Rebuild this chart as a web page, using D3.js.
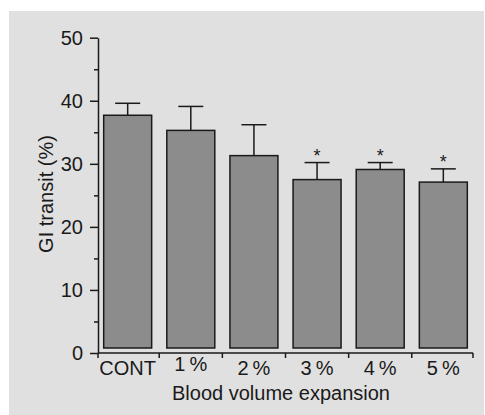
<!DOCTYPE html>
<html>
<head>
<meta charset="utf-8">
<script src="https://cdn.jsdelivr.net/npm/d3@7"></script>
<style>
  html, body { margin: 0; padding: 0; background: #fff; }
  svg { display: block; font-family: Arial, "Liberation Sans", sans-serif; }
</style>
</head>
<body>
<div id="chart"></div>
<script>
// values
const categories = ['CONT', '1\u2009%', '2\u2009%', '3\u2009%', '4\u2009%', '5\u2009%'];
const means = [37.7, 35.3, 31.3, 27.5, 29.1, 27.1];
const upperErr = [39.6, 39.1, 36.2, 30.2, 30.2, 29.2];
const significant = [false, false, false, true, true, true];
const yTicks = [0, 10, 20, 30, 40, 50];
const yMinorTicks = [5, 15, 25, 35, 45];

const width = 485, height = 415;
const margin = { left: 98, right: 12, top: 37.7, bottom: 62 };
const fontSize = 20;

const svg = d3.select('#chart')
    .append('svg')
    .attr('width', width)
    .attr('height', height);

// grey panel behind the chart
svg.append('rect')
    .attr('x', 9).attr('y', 11)
    .attr('width', 475).attr('height', 404)
    .attr('fill', '#e0e0e0');

const x = d3.scaleBand()
    .domain(categories)
    .range([margin.left, width - margin.right])
    .paddingInner(0.24)
    .paddingOuter(0.09);

const y = d3.scaleLinear()
    .domain([0, 50])
    .range([height - margin.bottom, margin.top]);

const rows = categories.map((c, i) => ({
    cat: c, mean: means[i], hi: upperErr[i], sig: significant[i]
}));

const ink = '#1a1a1a';

// bars (they sit a few px above the axis line in the original)
const base = y(0) - 5;
svg.append('g')
    .selectAll('rect')
    .data(rows)
    .enter()
    .append('rect')
    .attr('x', (d) => x(d.cat))
    .attr('y', (d) => y(d.mean))
    .attr('width', x.bandwidth())
    .attr('height', (d) => base - y(d.mean))
    .attr('fill', '#8c8c8c')
    .attr('stroke', ink)
    .attr('stroke-width', 1.5);

// error bars, upper half only
const err = svg.append('g').attr('stroke', ink).attr('stroke-width', 1.5);
err.selectAll('line.stem')
    .data(rows)
    .enter()
    .append('line')
    .attr('class', 'stem')
    .attr('x1', (d) => x(d.cat) + x.bandwidth() / 2)
    .attr('x2', (d) => x(d.cat) + x.bandwidth() / 2)
    .attr('y1', (d) => y(d.mean))
    .attr('y2', (d) => y(d.hi));
err.selectAll('line.cap')
    .data(rows)
    .enter()
    .append('line')
    .attr('class', 'cap')
    .attr('x1', (d) => x(d.cat) + x.bandwidth() / 2 - 12.5)
    .attr('x2', (d) => x(d.cat) + x.bandwidth() / 2 + 12.5)
    .attr('y1', (d) => y(d.hi))
    .attr('y2', (d) => y(d.hi));

// significance stars
svg.append('g')
    .selectAll('text')
    .data(rows.filter((d) => d.sig))
    .enter()
    .append('text')
    .attr('x', (d) => x(d.cat) + x.bandwidth() / 2)
    .attr('y', (d) => y(d.hi) - 1)
    .attr('text-anchor', 'middle')
    .attr('font-size', 18)
    .attr('fill', ink)
    .text('*');

// y axis
const yAxis = svg.append('g')
    .attr('transform', `translate(${margin.left},0)`)
    .call(d3.axisLeft(y).tickValues(yTicks).tickSize(8).tickPadding(7).tickSizeOuter(0));
yAxis.select('.domain').attr('stroke', ink).attr('stroke-width', 1.5);
yAxis.selectAll('.tick line').attr('stroke', ink).attr('stroke-width', 1.5);
yAxis.selectAll('.tick text')
    .attr('font-size', fontSize)
    .attr('font-family', 'Arial, "Liberation Sans", sans-serif')
    .attr('fill', ink);
svg.append('g')
    .attr('transform', `translate(${margin.left},0)`)
    .call(d3.axisLeft(y).tickValues(yMinorTicks).tickSize(4).tickFormat(''))
    .call((g) => g.select('.domain').remove())
    .selectAll('.tick line').attr('stroke', ink).attr('stroke-width', 1.5);

// x axis: line with ticks at band boundaries
const gap = x.step() - x.bandwidth();
const bounds = [margin.left].concat(categories.map((c, i) =>
    i === categories.length - 1 ? width - margin.right : x(c) + x.bandwidth() + gap / 2));
const xg = svg.append('g').attr('stroke', ink).attr('stroke-width', 1.5);
xg.append('line')
    .attr('x1', margin.left).attr('x2', width - margin.right)
    .attr('y1', y(0)).attr('y2', y(0));
xg.selectAll('line.tk')
    .data(bounds)
    .enter()
    .append('line')
    .attr('class', 'tk')
    .attr('x1', (d) => d).attr('x2', (d) => d)
    .attr('y1', y(0)).attr('y2', y(0) + 5);

svg.append('g')
    .selectAll('text')
    .data(categories)
    .enter()
    .append('text')
    .attr('x', (d) => x(d) + x.bandwidth() / 2)
    .attr('y', (d, i) => y(0) + (i === 1 ? 18 : 22))
    .attr('text-anchor', 'middle')
    .attr('font-size', fontSize)
    .attr('fill', ink)
    .text((d) => d);

// axis titles
svg.append('text')
    .attr('x', 281)
    .attr('y', 400)
    .attr('text-anchor', 'middle')
    .attr('font-size', fontSize)
    .attr('fill', ink)
    .text('Blood volume expansion');

svg.append('text')
    .attr('transform', 'translate(53,194) rotate(-90)')
    .attr('text-anchor', 'middle')
    .attr('font-size', fontSize)
    .attr('fill', ink)
    .text('GI transit (%)');
</script>
</body>
</html>
